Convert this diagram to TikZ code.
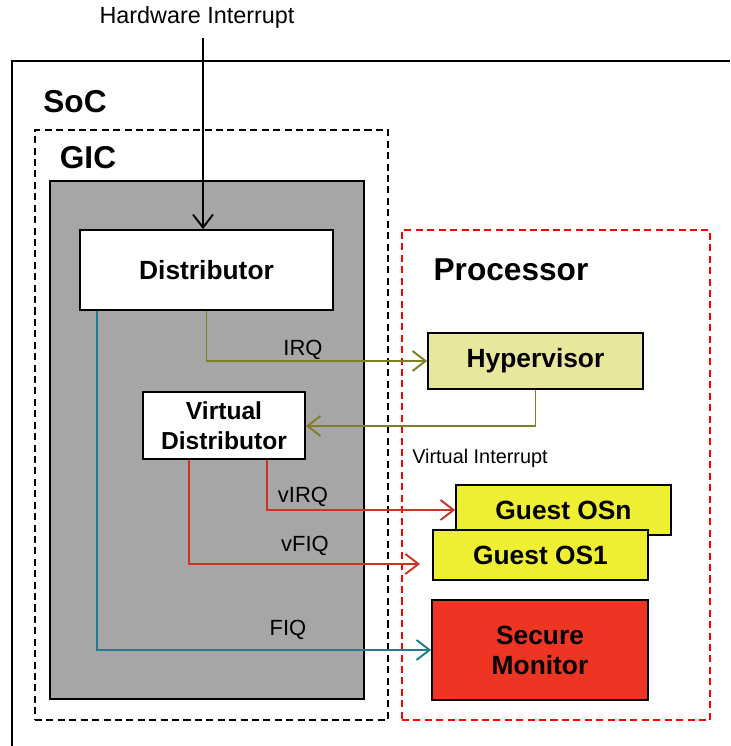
\documentclass[tikz,border=0pt]{standalone}
\usepackage{fontspec}
\setmainfont{Liberation Sans}
\usetikzlibrary{arrows.meta}
\pgfdeclarelayer{bg}
\pgfsetlayers{bg,main}
\definecolor{gicgray}{HTML}{A6A6A6}
\definecolor{hypfill}{HTML}{E8E89C}
\definecolor{guestfill}{HTML}{EEEE33}
\definecolor{securefill}{HTML}{EE3524}
\definecolor{irqline}{HTML}{7F7F22}
\definecolor{virqline}{HTML}{CC3322}
\definecolor{fiqline}{HTML}{1F7C91}
\tikzset{
    blk/.style={rectangle, draw, line width=1pt, inner sep=0mm, align=center,
        font=\bfseries\fontsize{15}{17}\selectfont},
    title/.style={inner sep=0mm, font=\bfseries\fontsize{18}{20}\selectfont},
    lbl/.style={inner sep=0mm, font=\fontsize{12.5}{14}\selectfont},
    sig/.style={line width=1.1pt, -{Straight Barb[length=2.6mm,width=4mm]}}
}

\begin{document}
\begin{tikzpicture}
  \useasboundingbox (0cm, 0cm) rectangle (14.6cm, 14.92cm);

  \draw[line width=1pt] (0.24cm, 0cm) -- (0.24cm, 13.7cm) -- (14.6cm, 13.7cm);

  \node[draw, dash pattern=on 4pt off 2.5pt, line width=0.9pt, minimum width=7.06cm, minimum height=11.8cm]
    (gic) at (4.23cm, 6.42cm) {};
  \node[draw, fill=gicgray, line width=1pt, minimum width=6.28cm, minimum height=10.36cm]
    (core) at (4.14cm, 6.12cm) {};
  \node[draw=red, dash pattern=on 4pt off 2.5pt, line width=0.9pt, minimum width=6.16cm, minimum height=9.8cm]
    (proc) at (11.12cm, 5.42cm) {};

  \node[title] (soc) at (1.5cm, 12.88cm) {SoC};
  \node[title] (gicl) at (1.76cm, 11.76cm) {GIC};
  \node[title] (procl) at (10.22cm, 9.52cm) {Processor};

  \node[blk, fill=white, minimum width=5.06cm, minimum height=1.6cm] (dist) at (4.13cm, 9.52cm) {Distributor};
  \node[blk, fill=white, minimum width=3.24cm, minimum height=1.34cm,
    font=\bfseries\fontsize{14}{17}\selectfont] (vd) at (4.48cm, 6.41cm) {Virtual\\Distributor};
  \node[blk, fill=hypfill, minimum width=4.3cm, minimum height=1.12cm] (hyp) at (10.71cm, 7.70cm) {Hypervisor};
  \node[blk, fill=guestfill, minimum width=4.3cm, minimum height=1cm] (osn) at (11.27cm, 4.72cm) {Guest OSn};
  \node[blk, fill=guestfill, minimum width=4.3cm, minimum height=1cm] (os1) at (10.81cm, 3.82cm) {Guest OS1};
  \node[blk, fill=securefill, minimum width=4.32cm, minimum height=2cm] (sm) at (10.8cm, 1.92cm) {Secure\\Monitor};

  \node[lbl, font=\fontsize{13.3}{15}\selectfont] (hwl) at (3.94cm, 14.58cm) {Hardware Interrupt};
  \node[lbl] (irql) at (6.06cm, 7.92cm) {IRQ};
  \node[lbl] (virql) at (6.06cm, 4.98cm) {vIRQ};
  \node[lbl] (vfiql) at (6.1cm, 4.0cm) {vFIQ};
  \node[lbl] (fiql) at (5.76cm, 2.32cm) {FIQ};
  \node[lbl, font=\fontsize{11.3}{13}\selectfont] (vintl) at (9.6cm, 5.76cm) {Virtual Interrupt};

  \coordinate (hw) at (4.06cm, 14.16cm);
  \coordinate (vfiqend) at (8.4cm, 3.64cm);

  \draw[sig] (hw) -- (hw |- dist.north);
  \draw[sig, irqline] (dist.south) |- (hyp.west);
  \draw[sig, irqline] (hyp.south) |- ([yshift=-0.01cm]vd.east);
  \draw[sig, virqline] ([xshift=0.86cm]vd.south) |- (osn.west);
  \draw[sig, virqline] ([xshift=-0.7cm]vd.south) |- (vfiqend);
  \draw[sig, fiqline] ([xshift=-2.19cm]dist.south) |- (sm.west);

\end{tikzpicture}
\end{document}
